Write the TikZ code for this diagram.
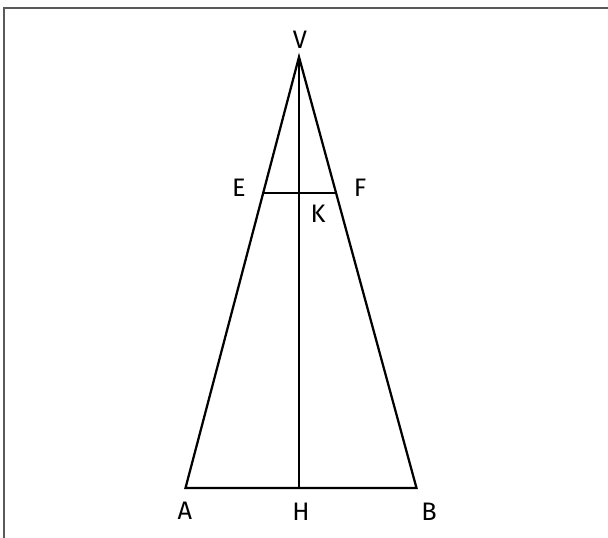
\documentclass[tikz,border=0pt]{standalone}
\usepackage{fontspec}
\setmainfont{Fira Sans}
\usetikzlibrary{calc,positioning}
\definecolor{FrameGray}{RGB}{90,90,90}

\begin{document}
\begin{tikzpicture}[x=0.025cm,y=-0.025cm,
    edge/.style={line width=1.6pt,line join=miter},
    lbl/.style={inner sep=0pt,font=\fontsize{18}{21}\selectfont}]
      \useasboundingbox (0,0) rectangle (608,538);
      % frame
      \draw[FrameGray,line width=1.1pt] (4,538)--(4,8)--(608,8);
      \coordinate (V) at (299,57);
      \coordinate (A) at (185.5,488);
      \coordinate (B) at (416.5,488);
      \coordinate (H) at (299,488);
      \coordinate (E) at ($(V)!0.3155!(A)$);
      \coordinate (F) at ($(V)!0.3155!(B)$);
      \coordinate (K) at ($(E)!(V)!(F)$);
      \draw[edge] (A)--(V)--(B)--cycle;
      \draw[edge] (V)--(H);
      \draw[edge] (E)--(F);
      \node[lbl] (lV) at (300,40) {V};
      \node[lbl] (lE) at (239,188) {E};
      \node[lbl] (lF) at (360,188) {F};
      \node[lbl] (lK) at (318,214) {K};
      \node[lbl] (lA) at (185,511) {A};
      \node[lbl] (lH) at (301,512) {H};
      \node[lbl] (lB) at (429,512) {B};
    \end{tikzpicture}
\end{document}
